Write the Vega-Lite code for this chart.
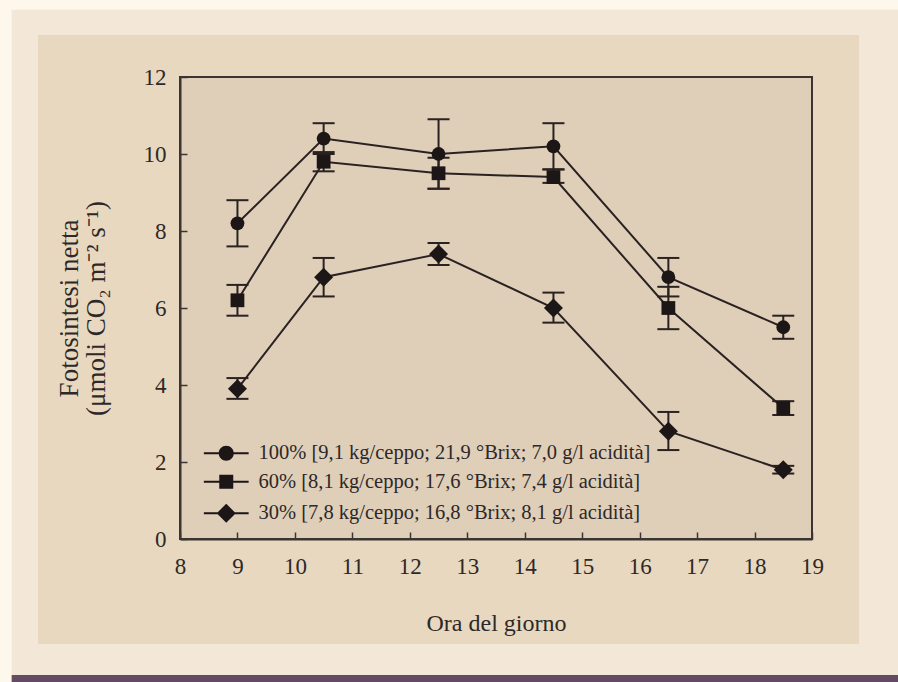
{
  "$schema": "https://vega.github.io/schema/vega-lite/v6.json",
  "width": 632,
  "height": 462,
  "autosize": {"type": "none"},
  "padding": {"left": 180, "top": 77, "right": 86, "bottom": 143},
  "background": "#fdf7ec",
  "config": {
    "view": {"stroke": null},
    "font": "Liberation Serif",
    "axis": {
      "labelFont": "Liberation Serif",
      "titleFont": "Liberation Serif",
      "labelColor": "#2e2828",
      "titleColor": "#2e2828",
      "labelFontSize": 23,
      "titleFontSize": 24,
      "titleFontWeight": "normal",
      "domainColor": "#3b3433",
      "domainWidth": 2,
      "tickColor": "#3b3433",
      "tickWidth": 1.5,
      "grid": false
    }
  },
  "datasets": {
    "obs": [
      {"series": "100% [9,1 kg/ceppo; 21,9 °Brix; 7,0 g/l acidità]", "hour": 9, "value": 8.2, "lo": 7.6, "hi": 8.8},
      {"series": "100% [9,1 kg/ceppo; 21,9 °Brix; 7,0 g/l acidità]", "hour": 10.5, "value": 10.4, "lo": 10.0, "hi": 10.8},
      {"series": "100% [9,1 kg/ceppo; 21,9 °Brix; 7,0 g/l acidità]", "hour": 12.5, "value": 10.0, "lo": 9.1, "hi": 10.9},
      {"series": "100% [9,1 kg/ceppo; 21,9 °Brix; 7,0 g/l acidità]", "hour": 14.5, "value": 10.2, "lo": 9.6, "hi": 10.8},
      {"series": "100% [9,1 kg/ceppo; 21,9 °Brix; 7,0 g/l acidità]", "hour": 16.5, "value": 6.8, "lo": 6.3, "hi": 7.3},
      {"series": "100% [9,1 kg/ceppo; 21,9 °Brix; 7,0 g/l acidità]", "hour": 18.5, "value": 5.5, "lo": 5.2, "hi": 5.8},
      {"series": "60% [8,1 kg/ceppo; 17,6 °Brix; 7,4 g/l acidità]", "hour": 9, "value": 6.2, "lo": 5.8, "hi": 6.6},
      {"series": "60% [8,1 kg/ceppo; 17,6 °Brix; 7,4 g/l acidità]", "hour": 10.5, "value": 9.8, "lo": 9.55, "hi": 10.05},
      {"series": "60% [8,1 kg/ceppo; 17,6 °Brix; 7,4 g/l acidità]", "hour": 12.5, "value": 9.5, "lo": 9.1, "hi": 9.9},
      {"series": "60% [8,1 kg/ceppo; 17,6 °Brix; 7,4 g/l acidità]", "hour": 14.5, "value": 9.4, "lo": 9.25, "hi": 9.6},
      {"series": "60% [8,1 kg/ceppo; 17,6 °Brix; 7,4 g/l acidità]", "hour": 16.5, "value": 6.0, "lo": 5.45, "hi": 6.55},
      {"series": "60% [8,1 kg/ceppo; 17,6 °Brix; 7,4 g/l acidità]", "hour": 18.5, "value": 3.4, "lo": 3.22, "hi": 3.58},
      {"series": "30% [7,8 kg/ceppo; 16,8 °Brix; 8,1 g/l acidità]", "hour": 9, "value": 3.9, "lo": 3.64, "hi": 4.18},
      {"series": "30% [7,8 kg/ceppo; 16,8 °Brix; 8,1 g/l acidità]", "hour": 10.5, "value": 6.8, "lo": 6.3, "hi": 7.3},
      {"series": "30% [7,8 kg/ceppo; 16,8 °Brix; 8,1 g/l acidità]", "hour": 12.5, "value": 7.4, "lo": 7.12, "hi": 7.69},
      {"series": "30% [7,8 kg/ceppo; 16,8 °Brix; 8,1 g/l acidità]", "hour": 14.5, "value": 6.0, "lo": 5.62, "hi": 6.4},
      {"series": "30% [7,8 kg/ceppo; 16,8 °Brix; 8,1 g/l acidità]", "hour": 16.5, "value": 2.8, "lo": 2.31, "hi": 3.3},
      {"series": "30% [7,8 kg/ceppo; 16,8 °Brix; 8,1 g/l acidità]", "hour": 18.5, "value": 1.8, "lo": 1.7, "hi": 1.9}
    ]
  },
  "resolve": {"scale": {"shape": "independent"}, "legend": {"shape": "independent"}},
  "layer": [
    {
      "data": {"values": [{}]},
      "mark": {"type": "rect", "color": "#f3e8d7"},
      "encoding": {
        "x": {"datum": 5.07, "type": "quantitative", "scale": {"domain": [8, 19], "nice": false, "zero": false},
          "axis": {"values": [8, 8.5, 9, 9.5, 10, 10.5, 11, 11.5, 12, 12.5, 13, 13.5, 14, 14.5, 15, 15.5, 16, 16.5, 17, 17.5, 18, 18.5, 19],
            "labelExpr": "datum.value % 1 === 0 ? format(datum.value, 'd') : ''",
            "tickSize": -7,
            "labelPadding": 23,
            "labelFlush": false,
            "zindex": 1,
            "encode": {"ticks": {"update": {"y2": {"signal": "datum.value % 1 === 0 ? -8 : -5"}}}},
            "title": "Ora del giorno",
            "titlePadding": 33}},
        "x2": {"datum": 20.7},
        "y": {"datum": -3.53, "type": "quantitative", "scale": {"domain": [0, 12], "nice": false, "zero": false},
          "axis": {"values": [0, 1, 2, 3, 4, 5, 6, 7, 8, 9, 10, 11, 12],
            "labelExpr": "datum.value % 2 === 0 ? format(datum.value, 'd') : ''",
            "tickSize": -7,
            "labelPadding": 21,
            "labelFlush": false,
            "zindex": 1,
            "encode": {"ticks": {"update": {"x2": {"signal": "datum.value % 2 === 0 ? 8 : 5"}}}},
            "title": ["Fotosintesi netta", "(μmoli CO₂ m⁻² s⁻¹)"],
            "titleFontSize": 27,
            "titleLineHeight": 27,
            "titlePadding": 33}},
        "y2": {"datum": 13.75}
      }
    },
    {
      "data": {"values": [{}]},
      "mark": {"type": "rect", "color": "#e8d8bf"},
      "encoding": {
        "x": {"datum": 5.528, "type": "quantitative"},
        "x2": {"datum": 19.819},
        "y": {"datum": -2.727, "type": "quantitative"},
        "y2": {"datum": 13.09}
      }
    },
    {
      "data": {"values": [{}]},
      "mark": {"type": "rect", "color": "#644a62"},
      "encoding": {
        "x": {"datum": 5.07, "type": "quantitative"},
        "x2": {"datum": 20.7},
        "y": {"datum": -3.9, "type": "quantitative"},
        "y2": {"datum": -3.53}
      }
    },
    {
      "data": {"values": [{}]},
      "mark": {"type": "rect", "fill": "#dfcfb9", "stroke": "#3b3433", "strokeWidth": 2},
      "encoding": {
        "x": {"datum": 8, "type": "quantitative"},
        "x2": {"datum": 19},
        "y": {"datum": 0, "type": "quantitative"},
        "y2": {"datum": 12}
      }
    },
    {
      "data": {"name": "obs"},
      "mark": {"type": "line", "color": "#2a2222", "strokeWidth": 2},
      "encoding": {
        "x": {"field": "hour", "type": "quantitative"},
        "y": {"field": "value", "type": "quantitative"},
        "detail": {"field": "series", "type": "nominal"}
      }
    },
    {
      "data": {"name": "obs"},
      "mark": {"type": "rule", "color": "#2a2222", "strokeWidth": 2},
      "encoding": {
        "x": {"field": "hour", "type": "quantitative"},
        "y": {"field": "lo", "type": "quantitative"},
        "y2": {"field": "hi"}
      }
    },
    {
      "data": {"name": "obs"},
      "mark": {"type": "tick", "color": "#2a2222", "orient": "horizontal", "size": 22, "thickness": 2, "opacity": 1},
      "encoding": {
        "x": {"field": "hour", "type": "quantitative"},
        "y": {"field": "lo", "type": "quantitative"}
      }
    },
    {
      "data": {"name": "obs"},
      "mark": {"type": "tick", "color": "#2a2222", "orient": "horizontal", "size": 22, "thickness": 2, "opacity": 1},
      "encoding": {
        "x": {"field": "hour", "type": "quantitative"},
        "y": {"field": "hi", "type": "quantitative"}
      }
    },
    {
      "data": {"name": "obs"},
      "layer": [
        {
          "transform": [{"filter": "indexof(datum.series, '30%') !== 0"}],
          "mark": {"type": "point", "filled": true, "color": "#1c1616", "opacity": 1, "size": 190},
          "encoding": {
            "x": {"field": "hour", "type": "quantitative"},
            "y": {"field": "value", "type": "quantitative"},
            "shape": {
              "field": "series", "type": "nominal",
              "scale": {
                "domain": ["100% [9,1 kg/ceppo; 21,9 °Brix; 7,0 g/l acidità]", "60% [8,1 kg/ceppo; 17,6 °Brix; 7,4 g/l acidità]", "30% [7,8 kg/ceppo; 16,8 °Brix; 8,1 g/l acidità]"],
                "range": ["circle", "square", "diamond"]
              },
              "legend": null
            }
          }
        },
        {
          "transform": [{"filter": "indexof(datum.series, '30%') === 0"}],
          "mark": {"type": "point", "filled": true, "color": "#1c1616", "opacity": 1, "size": 360},
          "encoding": {
            "x": {"field": "hour", "type": "quantitative"},
            "y": {"field": "value", "type": "quantitative"},
            "shape": {"field": "series", "type": "nominal", "legend": null}
          }
        }
      ]
    },
    {
      "data": {"name": "obs"},
      "transform": [{"filter": "false"}],
      "mark": {"type": "point", "filled": true, "color": "#1c1616", "opacity": 1, "size": 256},
      "encoding": {
        "x": {"field": "hour", "type": "quantitative"},
        "y": {"field": "value", "type": "quantitative"},
        "shape": {
          "field": "series", "type": "nominal",
          "scale": {
            "domain": ["100% [9,1 kg/ceppo; 21,9 °Brix; 7,0 g/l acidità]", "60% [8,1 kg/ceppo; 17,6 °Brix; 7,4 g/l acidità]", "30% [7,8 kg/ceppo; 16,8 °Brix; 8,1 g/l acidità]"],
            "range": [
              "M-2.8,-0.125H2.8V0.125H-2.8ZM0.94,0A0.94,0.94,0,1,1,-0.94,0A0.94,0.94,0,1,1,0.94,0Z",
              "M-2.8,-0.125H2.8V0.125H-2.8ZM-0.875,-0.875H0.875V0.875H-0.875Z",
              "M-2.8,-0.125H2.8V0.125H-2.8ZM-1.19,0L0,-1.19L1.19,0L0,1.19Z"
            ]
          },
          "legend": {
            "title": null,
            "orient": "none",
            "legendX": 36,
            "legendY": 366,
            "labelFont": "Liberation Serif",
            "labelFontSize": 20.5,
            "labelColor": "#2e2828",
            "labelOffset": 22,
            "rowPadding": 7.5,
            "labelLimit": 700,
            "symbolSize": 256,
            "symbolFillColor": "#1c1616",
            "symbolOpacity": 1
          }
        }
      }
    }
  ]
}
